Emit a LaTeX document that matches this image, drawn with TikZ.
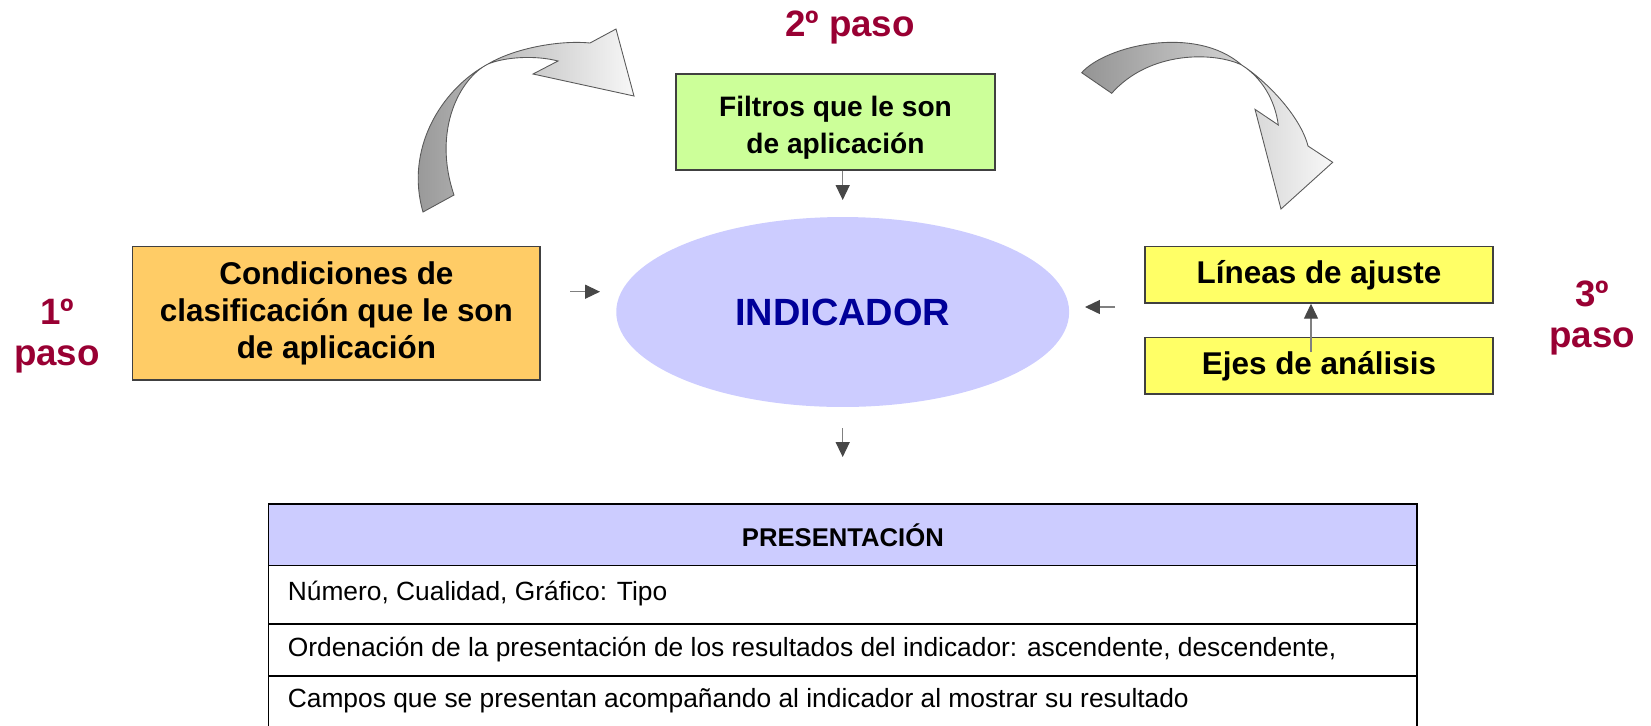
\documentclass[tikz,border=0pt]{standalone}
\usepackage{fontspec}
\setmainfont{Liberation Sans}
\usetikzlibrary{arrows.meta,shapes.geometric,calc}
\definecolor{pasocol}{HTML}{990033}
\definecolor{indcol}{HTML}{000099}
\definecolor{orangebox}{HTML}{FFCC66}
\definecolor{greenbox}{HTML}{CCFF99}
\definecolor{lilac}{HTML}{CCCCFF}
\definecolor{yellowbox}{HTML}{FFFF66}
\newcommand\dgBoxFont{\fontsize{17.9pt}{21.3pt}\selectfont\bfseries}
\newcommand\dgGreenFont{\fontsize{16pt}{21pt}\selectfont\bfseries}
\newcommand\dgPasoFont{\fontsize{20.9pt}{24pt}\selectfont\bfseries}
\newcommand\dgIndFont{\fontsize{21.6pt}{25pt}\selectfont\bfseries}
\newcommand\dgTabFont{\fontsize{15pt}{18pt}\selectfont}
\newcommand\dgHeadFont{\fontsize{14.6pt}{18pt}\selectfont\bfseries}
\begin{document}
\begin{tikzpicture}[x=0.02cm,y=-0.02cm,
  box/.style={draw=black!75, line width=0.8pt, inner sep=0pt, align=center},
  smallarr/.style={draw=black!50, line width=0.6pt, -{Triangle[length=8.5pt,width=8pt,fill=black!72,color=black!72]}},
  bigarr/.style={draw=black!65, line width=0.5pt, left color=black!42, right color=black!3},
  pasolbl/.style={text=pasocol, font=\dgPasoFont, anchor=base, inner sep=0pt},
  tabline/.style={draw=black, line width=1.1pt},
  tabtext/.style={font=\dgTabFont, anchor=west, inner sep=0pt}]
\useasboundingbox (0,0) rectangle (1651,725);

% curved arrows
\path[bigarr] (423,212) .. controls (405,150) and (440,90) .. (488,64)
  .. controls (515,48) and (560,40) .. (590,43)
  -- (616,29) -- (634,96) -- (533,74) -- (558,61)
  .. controls (535,55) and (505,57) .. (488,64)
  .. controls (460,78) and (432,130) .. (454,195) -- cycle;
\path[bigarr] (1081.7,72.7) .. controls (1105,46) and (1195,24) .. (1241.7,65)
  .. controls (1265,80) and (1300,115) .. (1308,146)
  -- (1332.7,162.3) -- (1281,209) -- (1255,109.3) -- (1278.3,125)
  .. controls (1275,100) and (1262,78) .. (1241.7,65)
  .. controls (1215,52) and (1150,50) .. (1111.7,93.3) -- cycle;

% nodes
\node[box, fill=orangebox, font=\dgBoxFont, minimum width=8.146cm, minimum height=2.666cm]
  (cond) at (336.4,313.4) {Condiciones de\\clasificación que le son\\de aplicación};
\node[box, fill=greenbox, minimum width=6.38cm, minimum height=1.92cm]
  (filt) at (835.5,122) {};
\node[align=center, inner sep=0pt, font=\dgGreenFont] (filttxt) at (835.5,127.5)
  {Filtros que le son\\de aplicación};
\node[ellipse, fill=lilac, inner sep=0pt, minimum width=9.06cm, minimum height=3.8cm,
  text=indcol, font=\dgIndFont] (ind) at (842.7,312) {INDICADOR};
\node[box, fill=yellowbox, font=\dgBoxFont, minimum width=6.96cm, minimum height=1.126cm]
  (lin) at (1319,274.9) {Líneas de ajuste};
\node[box, fill=yellowbox, font=\dgBoxFont, minimum width=6.96cm, minimum height=1.126cm]
  (ejes) at (1319,365.9) {Ejes de análisis};

% paso labels
\node[pasolbl] (p2) at (850,36) {2º paso};
\node[pasolbl] (p1a) at (57,324) {1º};
\node[pasolbl] (p1b) at (57,365) {paso};
\node[pasolbl] (p3a) at (1592,306) {3º};
\node[pasolbl] (p3b) at (1592,347) {paso};

% small arrows
\coordinate (a1e) at (842.7,200);
\coordinate (a2s) at (570,291.7);
\coordinate (a2e) at (600,291.7);
\coordinate (a3s) at (1115,307);
\coordinate (a3e) at (1085,307);
\coordinate (a4s) at (842.7,428);
\coordinate (a4e) at (842.7,457);
\coordinate (a5s) at (1311,352);
\draw[smallarr] (ind.north |- filt.south) -- (a1e);
\draw[smallarr] (a2s) -- (a2e);
\draw[smallarr] (a3s) -- (a3e);
\draw[smallarr] (a4s) -- (a4e);
\draw[smallarr] (a5s) -- (a5s |- lin.south);

% table
\begin{scope}
\clip (0,0) rectangle (1651,725);
\node[fill=lilac, inner sep=0pt, minimum width=22.976cm, minimum height=1.222cm, font=\dgHeadFont]
  (head) at (842.9,534.95) {PRESENTACIÓN};
\draw[tabline] (268.5,504.4) rectangle (1417.3,740);
\draw[tabline] (268.5,565.5) -- (1417.3,565.5);
\draw[tabline] (268.5,624.4) -- (1417.3,624.4);
\draw[tabline] (268.5,676) -- (1417.3,676);
\node[tabtext] (r1) at (287.5,594) {Número, Cualidad, Gráfico: Tipo};
\node[tabtext] (r2) at (287.5,650) {Ordenación de la presentación de los resultados del indicador: ascendente, descendente,};
\node[tabtext] (r3) at (287.5,701) {Campos que se presentan acompañando al indicador al mostrar su resultado};
\end{scope}
\end{tikzpicture}
\end{document}
